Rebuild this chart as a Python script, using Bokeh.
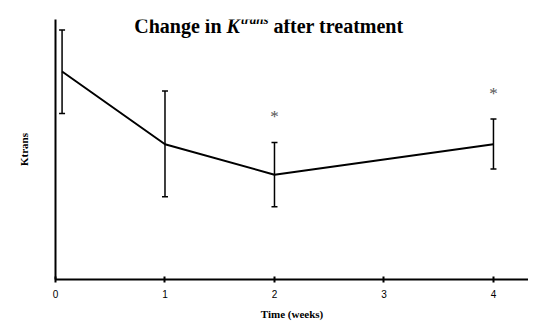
from bokeh.plotting import figure
from bokeh.models import Range1d, ColumnDataSource, Whisker, TeeHead, Label, FixedTicker
from bokeh.core.properties import value
from bokeh.embed import file_html
from bokeh.resources import INLINE

# data
weeks = [0.06, 1, 2, 4]
ktrans = [0.800, 0.520, 0.403, 0.520]
err_upper = [0.960, 0.725, 0.527, 0.617]
err_lower = [0.638, 0.318, 0.280, 0.425]
significant = [False, False, True, True]
x_ticks = [0, 1, 2, 3, 4]

p = figure(width=528, height=322, output_backend="svg", toolbar_location=None,
           x_range=Range1d(0, 4.32), y_range=Range1d(0, 1.0),
           min_border_left=55, min_border_right=0, min_border_top=19, min_border_bottom=42)
p.outline_line_color = None
p.grid.visible = False
p.background_fill_color = "white"
p.border_fill_color = "white"

src = ColumnDataSource(dict(x=weeks, y=ktrans, up=err_upper, lo=err_lower))
w = Whisker(base="x", upper="up", lower="lo", source=src, dimension="height",
            line_color="black", line_width=1.5,
            upper_head=TeeHead(size=6, line_color="black", line_width=1.5),
            lower_head=TeeHead(size=6, line_color="black", line_width=1.5))
p.add_layout(w)
p.line("x", "y", source=src, line_color="black", line_width=2)

sx = [x for x, s in zip(weeks, significant) if s]
sy = [u + 0.10 for u, s in zip(err_upper, significant) if s]
p.text(sx, sy, text=["*"] * len(sx), text_font=value("Liberation Serif"),
       text_font_size="17px", text_color="#555555", text_align="center",
       text_baseline="alphabetic")

# x axis
xa = p.xaxis[0]
xa.ticker = FixedTicker(ticks=x_ticks)
xa.axis_line_width = 2
xa.axis_line_color = "black"
xa.major_tick_in = 3
xa.major_tick_out = 3
xa.major_tick_line_width = 2
xa.minor_tick_line_color = None
xa.major_label_text_font = "Liberation Sans"
xa.major_label_text_font_size = "10px"
xa.major_label_text_color = "black"
xa.major_label_standoff = 7
xa.axis_label = "Time (weeks)"
xa.axis_label_text_font = "Liberation Serif"
xa.axis_label_text_font_style = "bold"
xa.axis_label_text_font_size = "11px"
xa.axis_label_text_color = "black"
xa.axis_label_standoff = 7

# y axis
ya = p.yaxis[0]
ya.ticker = FixedTicker(ticks=[])
ya.axis_line_width = 2
ya.axis_line_color = "black"
ya.major_tick_out = 0
ya.major_tick_in = 0
ya.minor_tick_line_color = None
ya.major_label_text_font_size = "0px"
ya.axis_label = "Ktrans"
ya.axis_label_text_font = "Liberation Serif"
ya.axis_label_text_font_style = "bold"
ya.axis_label_text_font_size = "11px"
ya.axis_label_text_color = "black"
ya.axis_label_standoff = 26

# title pieces
tf = "Liberation Serif"
p.add_layout(Label(x=1.562, y=0.975, text="Change in ", text_align="right",
                   text_font=tf, text_font_style="bold", text_font_size="20px",
                   text_color="black", text_baseline="alphabetic"))
p.add_layout(Label(x=1.562, y=0.975, text="K", text_align="left",
                   text_font=tf, text_font_style="bold italic", text_font_size="20px",
                   text_color="black", text_baseline="alphabetic"))
p.add_layout(Label(x=1.695, y=1.0, text="trans", text_align="left",
                   text_font=tf, text_font_style="bold italic", text_font_size="13px",
                   text_color="black", text_baseline="alphabetic"))
p.add_layout(Label(x=1.99, y=0.975, text="after treatment", text_align="left",
                   text_font=tf, text_font_style="bold", text_font_size="20px",
                   text_color="black", text_baseline="alphabetic"))

open("out.html", "w").write(file_html(p, INLINE))
